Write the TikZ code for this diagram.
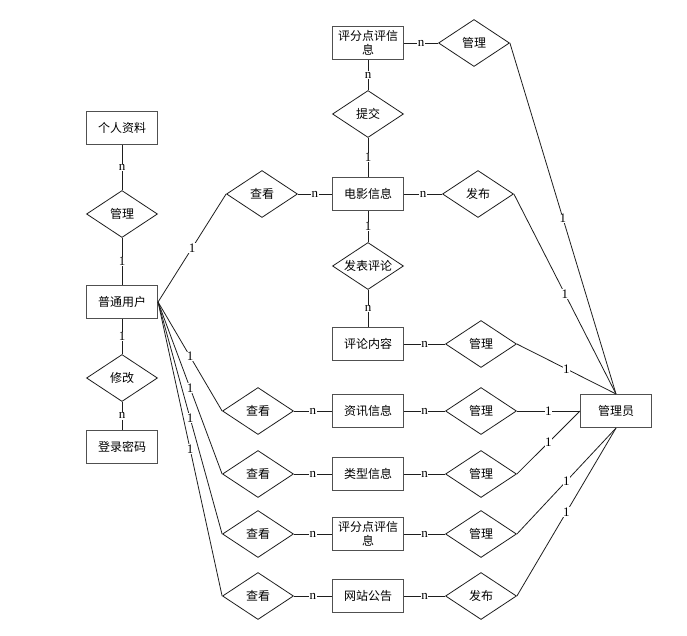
\documentclass[tikz,border=0pt]{standalone}
\usepackage{fontspec}
\newfontfamily\cjk{Noto Sans CJK SC}
\newfontfamily\numfont{Liberation Serif}
\usetikzlibrary{shapes.geometric}
\definecolor{erink}{HTML}{1E1E1E}
\definecolor{ergrey}{HTML}{505050}
\tikzset{
  ent/.style={draw=ergrey, line width=1.1pt, minimum width=71pt, minimum height=33pt, inner sep=1pt, align=center, font=\cjk\fontsize{12}{14}\selectfont},
  rel/.style={diamond, aspect=1.51, draw=erink, line width=0.8pt, minimum width=71pt, minimum height=47pt, inner sep=0pt, font=\cjk\fontsize{12}{14}\selectfont},
  ln/.style={draw=erink, line width=0.8pt},
  lab/.style={fill=white, inner sep=0.6pt, font=\numfont\fontsize{13}{14}\selectfont},
}
\begin{document}
\begin{tikzpicture}[x=1pt, y=-1pt]
    \useasboundingbox (0,0) rectangle (687,635);
    % entities
    \node[ent] (info) at (122,128) {个人资料};
    \node[ent] (user) at (122,302) {普通用户};
    \node[ent] (pwd) at (122,447) {登录密码};
    \node[ent] (rate) at (368,43) {评分点评信\\息};
    \node[ent] (movie) at (368,194) {电影信息};
    \node[ent] (cmt) at (368,344) {评论内容};
    \node[ent] (news) at (368,411) {资讯信息};
    \node[ent] (type) at (368,474) {类型信息};
    \node[ent] (rate2) at (368,534) {评分点评信\\息};
    \node[ent] (notice) at (368,596) {网站公告};
    \node[ent] (admin) at (616,411) {管理员};
    % relations
    \node[rel] (mgInfo) at (122,214) {管理};
    \node[rel] (edit) at (122,378) {修改};
    \node[rel] (submit) at (368,114) {提交};
    \node[rel] (post) at (368,266) {发表评论};
    \node[rel] (lkMovie) at (262,194) {查看};
    \node[rel] (lkNews) at (258,411) {查看};
    \node[rel] (lkType) at (258,474) {查看};
    \node[rel] (lkRate) at (258,534) {查看};
    \node[rel] (lkNotice) at (258,596) {查看};
    \node[rel] (mgRate) at (474,43) {管理};
    \node[rel] (pubMovie) at (478,194) {发布};
    \node[rel] (mgCmt) at (481,344) {管理};
    \node[rel] (mgNews) at (481,411) {管理};
    \node[rel] (mgType) at (481,474) {管理};
    \node[rel] (mgRate2) at (481,534) {管理};
    \node[rel] (pubNotice) at (481,596) {发布};
    % left column
    \draw[ln] (info) -- node[lab] {n} (mgInfo);
    \draw[ln] (mgInfo) -- node[lab] {1} (user);
    \draw[ln] (user) -- node[lab] {1} (edit);
    \draw[ln] (edit) -- node[lab] {n} (pwd);
    % user to views
    \draw[ln] (user.east) -- node[lab] {1} (lkMovie.west);
    \draw[ln] (user.east) -- node[lab] {1} (lkNews.west);
    \draw[ln] (user.east) -- node[lab] {1} (lkType.west);
    \draw[ln] (user.east) -- node[lab] {1} (lkRate.west);
    \draw[ln] (user.east) -- node[lab] {1} (lkNotice.west);
    \draw[ln] (lkMovie) -- node[lab] {n} (movie);
    \draw[ln] (lkNews) -- node[lab] {n} (news);
    \draw[ln] (lkType) -- node[lab] {n} (type);
    \draw[ln] (lkRate) -- node[lab] {n} (rate2);
    \draw[ln] (lkNotice) -- node[lab] {n} (notice);
    % middle column
    \draw[ln] (rate) -- node[lab] {n} (submit);
    \draw[ln] (submit) -- node[lab] {1} (movie);
    \draw[ln] (movie) -- node[lab] {1} (post);
    \draw[ln] (post) -- node[lab] {n} (cmt);
    % entities to admin relations
    \draw[ln] (rate) -- node[lab] {n} (mgRate);
    \draw[ln] (movie) -- node[lab] {n} (pubMovie);
    \draw[ln] (cmt) -- node[lab] {n} (mgCmt);
    \draw[ln] (news) -- node[lab] {n} (mgNews);
    \draw[ln] (type) -- node[lab] {n} (mgType);
    \draw[ln] (rate2) -- node[lab] {n} (mgRate2);
    \draw[ln] (notice) -- node[lab] {n} (pubNotice);
    % admin
    \draw[ln] (mgRate.east) -- node[lab] {1} (admin.north);
    \draw[ln] (pubMovie.east) -- node[lab] {1} (admin.north);
    \draw[ln] (mgCmt.east) -- node[lab] {1} (admin.north);
    \draw[ln] (mgNews.east) -- node[lab] {1} (admin.west);
    \draw[ln] (mgType.east) -- node[lab] {1} (admin.west);
    \draw[ln] (mgRate2.east) -- node[lab] {1} (admin.south);
    \draw[ln] (pubNotice.east) -- node[lab] {1} (admin.south);
\end{tikzpicture}
\end{document}
